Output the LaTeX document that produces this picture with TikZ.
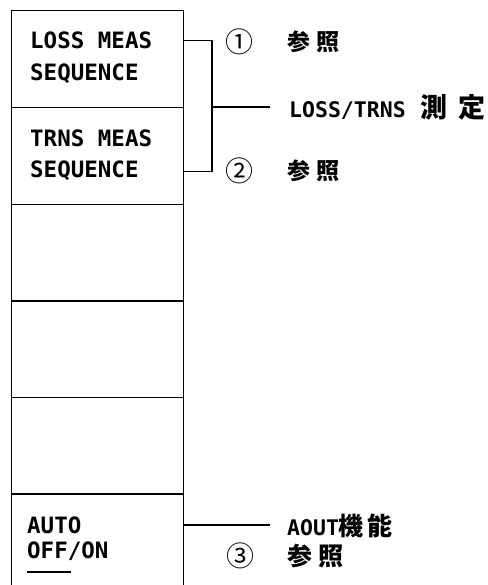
\documentclass[tikz,border=0pt]{standalone}
\usepackage{fontspec}
\setmonofont{DejaVu Sans Mono}
\newfontfamily\jpfont{Noto Sans CJK JP}
\tikzset{
  btn/.style={draw, line width=1.1pt, minimum width=172pt, minimum height=97pt, inner sep=0pt, anchor=north west},
  btntxt/.style={anchor=base west, inner sep=0pt, font=\ttfamily\bfseries\fontsize{22.5}{27}\selectfont},
  rtxt/.style={anchor=west, inner sep=0pt, font=\ttfamily\bfseries\fontsize{21.5}{26}\selectfont},
  lbl/.style={anchor=west, inner sep=0pt, font=\jpfont\bfseries\fontsize{23}{27}\selectfont},
  num/.style={inner sep=0pt, font=\jpfont\fontsize{28}{32}\selectfont},
  conn/.style={line width=1.1pt},
  ul/.style={line width=2pt}
}
\begin{document}
\begin{tikzpicture}[x=1pt,y=1pt]
\useasboundingbox (0,0) rectangle (487,-585);
\clip (0,0) rectangle (487,-585);
% buttons
\node[btn] (b1) at (11,-10) {};
\node[btn] (b2) at (11,-107) {};
\node[btn] (b3) at (11,-203.5) {};
\node[btn] (b4) at (11,-300) {};
\node[btn] (b5) at (11,-396.5) {};
\node[btn] (b6) at (11,-493) {};
% button texts
\node[btntxt] (l1a) at (30,-49) {LOSS MEAS};
\node[btntxt] (l1b) at (30,-81) {SEQUENCE};
\node[btntxt] (l2a) at (30,-147) {TRNS MEAS};
\node[btntxt] (l2b) at (30,-178) {SEQUENCE};
\node[btntxt] (l6a) at (27,-533) {AUTO};
\node[btntxt] (l6b) at (27,-558) {OFF/ON};
\draw[ul] ([yshift=-14pt]l6b.base west) -- ++(44,0);
% right labels
\node[num] (n1) at (239,-42) {①};
\node[lbl] (r1) at (287,-42) {参\hspace{6pt}照};
\node[num] (n2) at (239,-171) {②};
\node[lbl] (r2) at (287,-171) {参\hspace{6pt}照};
\node[rtxt] (meas) at (289,-107) {LOSS/TRNS\hspace{15pt}{\jpfont\bfseries\fontsize{27}{30}\selectfont 測\hspace{11pt}定}};
\node[rtxt] (aout) at (287,-526) {AOUT{\jpfont\bfseries\fontsize{25}{28}\selectfont 機\hspace{4pt}能}};
\node[num] (n3) at (240,-556) {③};
\node[lbl] (r3) at (287,-556) {{\fontsize{25}{28}\selectfont 参\hspace{6pt}照}};
% connectors
\coordinate (j) at (212,-107);
\coordinate (mend) at (270,-107);
\coordinate (aend) at (270,-525);
\draw[conn] (b1.east |- l1a) -| (j) |- (b2.east |- l2b);
\draw[conn] (j) -- (mend);
\draw[conn] (b6.east |- aend) -- (aend);
\end{tikzpicture}
\end{document}
